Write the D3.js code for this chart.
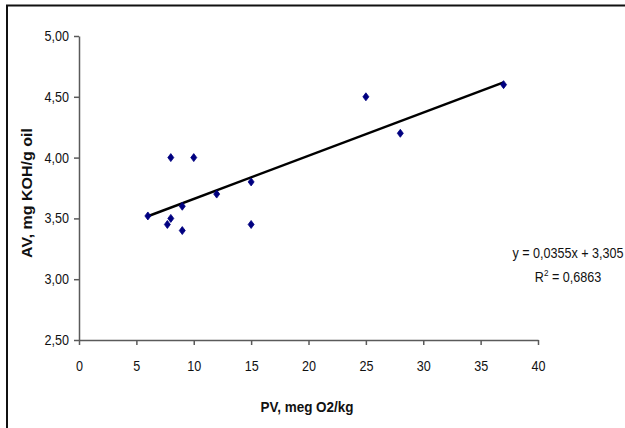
<!DOCTYPE html>
<html>
<head>
<meta charset="utf-8">
<script src="https://cdn.jsdelivr.net/npm/d3@7"></script>
<style>
  body { margin: 0; background: #fff; }
  svg { display: block; }
  text { font-family: "Liberation Sans", Arial, sans-serif; fill: #111; }
</style>
</head>
<body>
<svg id="canvas" width="625" height="428"></svg>
<script>
"use strict"

// PV (meq O2/kg) and AV (mg KOH/g oil)
let pvValues = [6, 7.7, 8, 8, 9, 9, 10, 12, 15, 15, 25, 28, 37];
let avValues = [3.52, 3.45, 3.5, 4.0, 3.6, 3.4, 4.0, 3.7, 3.8, 3.45, 4.5, 4.2, 4.6];

let xTicks = [0, 5, 10, 15, 20, 25, 30, 35, 40];
let yTicks = [2.5, 3.0, 3.5, 4.0, 4.5, 5.0];

// linear trend line shown in the chart
let trendSlope = 0.0355;
let trendIntercept = 3.305;
let trendRange = [6, 37];

let drawing = d3.select("#canvas");

// outer chart frame (runs off the right and bottom edge)
drawing.append("rect")
    .attr("x", 7)
    .attr("y", 5.5)
    .attr("width", 640)
    .attr("height", 440)
    .attr("fill", "none")
    .attr("stroke", "#111")
    .attr("stroke-width", 2);

let plotLeft = 79, plotRight = 538, plotTop = 36, plotBottom = 340;

let x = d3.scaleLinear().domain([0, 40]).range([plotLeft, plotRight]);
let y = d3.scaleLinear().domain([2.5, 5.0]).range([plotBottom, plotTop]);

let fmtY = v => d3.format(".2f")(v).replace(".", ",");

// the picture is stretched a bit vertically, so text looks narrow
let squeeze = 0.9;

// helper: text placed at (tx, ty), narrowed horizontally (on the page)
function label(tx, ty, size, str, opts) {
    opts = opts || {};
    let g = drawing.append("g")
        .attr("transform", "translate(" + tx + "," + ty + ")" + (opts.rotate ? " rotate(" + opts.rotate + ")" : ""));
    let t = g.append("text")
        .attr("transform", opts.rotate ? "scale(1," + squeeze + ")" : "scale(" + squeeze + ",1)")
        .attr("font-size", size + "px")
        .attr("text-anchor", opts.anchor || "start")
        .attr("font-weight", opts.bold ? "bold" : "normal");
    if (str != null) t.text(str);
    return t;
}

/* x axis */
drawing.append("g")
    .attr("transform", "translate(0," + plotBottom + ")")
    .call(d3.axisBottom(x).tickValues(xTicks).tickSize(5).tickSizeOuter(0).tickPadding(16));

/* y axis */
drawing.append("g")
    .attr("transform", "translate(" + plotLeft + ",0)")
    .call(d3.axisLeft(y).tickValues(yTicks).tickFormat(fmtY).tickSize(5).tickSizeOuter(0).tickPadding(6));

drawing.selectAll(".domain, .tick line")
    .attr("stroke", "#5a5a5a")
    .attr("stroke-width", 1.5);

drawing.selectAll(".tick text")
    .attr("fill", "#111")
    .attr("transform", "scale(" + squeeze + ",1)")
    .style("font-size", "14px")
    .style("font-family", "'Liberation Sans', Arial, sans-serif");

/* axis titles */
label(307, 412, 15, "PV, meg O2/kg", { anchor: "middle", bold: true });
label(32, 193, 16, "AV, mg KOH/g oil", { anchor: "middle", bold: true, rotate: -90 });

/* trend line */
drawing.append("line")
    .attr("x1", x(trendRange[0]))
    .attr("y1", y(trendSlope * trendRange[0] + trendIntercept))
    .attr("x2", x(trendRange[1]))
    .attr("y2", y(trendSlope * trendRange[1] + trendIntercept))
    .attr("stroke", "#000")
    .attr("stroke-width", 2.5);

/* data points as diamonds */
let diamond = "M0,-4 L3,0 L0,4 L-3,0 Z";
drawing.selectAll(".pt")
    .data(pvValues)
    .enter()
    .append("path")
    .attr("class", "pt")
    .attr("d", diamond)
    .attr("transform", (d, i) => "translate(" + x(d) + "," + y(avValues[i]) + ")")
    .attr("fill", "#000080")
    .attr("stroke", "#000080")
    .attr("stroke-width", 0.8);

/* equation label, both lines centred like the trendline label */
label(568, 258, 14, "y = 0,0355x + 3,305", { anchor: "middle" });

let r2 = label(568, 282, 14, null, { anchor: "middle" });
r2.append("tspan").text("R");
r2.append("tspan").attr("dy", -6).attr("font-size", "9px").text("2");
r2.append("tspan").attr("dy", 6).text(" = 0,6863");
</script>
</body>
</html>
